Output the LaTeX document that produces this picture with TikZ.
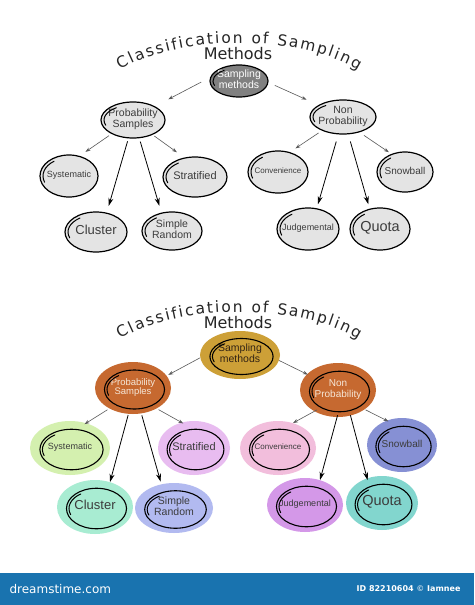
\documentclass[tikz,border=0pt]{standalone}
\usepackage{fontspec}
\setmainfont{Liberation Sans}
\newfontfamily\titlefont{DejaVu Sans}
\newfontfamily\footfont{DejaVu Sans}
\usetikzlibrary{shapes.geometric,arrows.meta,decorations.text}
\definecolor{smgray}{RGB}{128,128,128}
\definecolor{lgray}{RGB}{228,228,228}
\definecolor{txt}{RGB}{60,60,60}
\definecolor{gold}{RGB}{205,160,55}
\definecolor{rust}{RGB}{198,105,48}
\definecolor{cream}{RGB}{245,230,215}
\definecolor{darktxt}{RGB}{50,35,20}
\definecolor{cgreen}{RGB}{212,240,175}
\definecolor{cpink}{RGB}{232,188,240}
\definecolor{cmint}{RGB}{168,236,210}
\definecolor{clav}{RGB}{178,186,240}
\definecolor{crose}{RGB}{242,190,220}
\definecolor{cperi}{RGB}{134,144,212}
\definecolor{cviolet}{RGB}{212,152,232}
\definecolor{cteal}{RGB}{130,214,206}
\definecolor{footblue}{RGB}{25,115,175}
\tikzset{
  thinarr/.style={draw=black!65, line width=0.6pt, -{Stealth[length=5pt,width=3.5pt]}},
  boldarr/.style={draw=black, line width=0.8pt, -{Stealth[length=8pt,width=5pt]}},
  topell/.style={ellipse, draw=black, line width=1.2pt, inner sep=0pt},
  botell/.style={ellipse, inner sep=0pt},
  pen/.style={line width=1pt, line cap=round},
  titletext/.style={font=\titlefont\fontsize{16}{16}\selectfont, text=black!85, inner sep=0pt},
}
% name, x, y, rx, ry, fill, text colour, font size, text
\newcommand{\TopNode}[9]{%
  \node[topell, fill=#6, text=#7, font=\fontsize{#8}{#8}\selectfont,
        minimum width=#4*2pt, minimum height=#5*2pt] (#1) at (#2,-#3)
        {\makebox[0pt]{\begin{tabular}{@{}c@{}}#9\end{tabular}}};
  \pgfmathsetmacro{\myra}{#4-3}\pgfmathsetmacro{\myrb}{#5-3}
  \draw[pen] (#1.center) ++(125:\myra pt and \myrb pt)
     arc[start angle=125, end angle=200, x radius=\myra pt, y radius=\myrb pt];
}
\newcommand{\BotNode}[9]{%
  \node[botell, fill=#6, text=#7, font=\fontsize{#8}{#8}\selectfont,
        minimum width=#4*2pt, minimum height=#5*2pt] (#1) at (#2,-#3)
        {\makebox[0pt]{\begin{tabular}{@{}c@{}}#9\end{tabular}}};
  \pgfmathsetmacro{\myra}{0.79*#4}\pgfmathsetmacro{\myrb}{0.75*#5}
  \draw[line width=1.1pt] ([shift={(1.5pt,-1.5pt)}]#1.center) ellipse[x radius=\myra pt, y radius=\myrb pt];
  \pgfmathsetmacro{\myrc}{0.79*#4-2.5}\pgfmathsetmacro{\myrd}{0.75*#5-2.5}
  \draw[pen] ([shift={(1.5pt,-1.5pt)}]#1.center) ++(125:\myrc pt and \myrd pt)
     arc[start angle=125, end angle=200, x radius=\myrc pt, y radius=\myrd pt];
}
\begin{document}
\begin{tikzpicture}[x=1pt,y=1pt]
\useasboundingbox (0,0) rectangle (474,-605);
\fill[white] (0,0) rectangle (474,-605);

% ---------- top diagram ----------
\path[decorate, decoration={text along path, text align={fit to path},
   text={|\titlefont\fontsize{15.5}{15.5}\selectfont\color{black!85}|Classification of Sampling}}]
   (120,-70) .. controls (180,-34) and (300,-34) .. (358,-70);
\node[titletext] (meth1) at (238,-54) {Methods};

\TopNode{sm}{239}{81}{29}{16}{smgray}{white}{10.5}{Sampling\\methods}
\TopNode{prob}{133}{120}{32}{18}{lgray}{txt}{10.5}{Probability\\Samples}
\TopNode{non}{343}{117}{33}{17}{lgray}{txt}{10.5}{Non\\Probability}
\TopNode{syst}{69}{176}{29}{21}{lgray}{txt}{9}{Systematic}
\TopNode{strat}{195}{177}{32}{20}{lgray}{txt}{11}{Stratified}
\TopNode{clus}{96}{232}{31}{20}{lgray}{txt}{13}{Cluster}
\TopNode{simp}{172}{231}{30}{19}{lgray}{txt}{10.5}{Simple\\Random}
\TopNode{conv}{278}{172}{30}{21}{lgray}{txt}{8}{Convenience}
\TopNode{snow}{405}{172}{28}{20}{lgray}{txt}{10}{Snowball}
\TopNode{judg}{308}{229}{31}{21}{lgray}{txt}{9}{Judgemental}
\TopNode{quota}{380}{229}{30}{21}{lgray}{txt}{14.5}{Quota}

\draw[thinarr, shorten <=10pt, shorten >=15pt] (sm.173) -- (prob.32);
\draw[thinarr, shorten <=7pt, shorten >=13pt] (sm.-3) -- (non.154);
\draw[thinarr, shorten <=3pt, shorten >=7pt] (prob.213) -- (syst.62);
\draw[thinarr, shorten <=2pt, shorten >=9pt] (prob.-37) -- (strat.119);
\draw[boldarr, shorten <=3pt, shorten >=7pt] (prob.256) -- (clus.61);
\draw[boldarr, shorten <=3.5pt, shorten >=7pt] (prob.-71) -- (simp.120);
\draw[thinarr, shorten <=4pt, shorten >=6.6pt] (non.213) -- (conv.59);
\draw[thinarr, shorten <=5.5pt, shorten >=3pt] (non.-43.5) -- (snow.127);
\draw[boldarr, shorten <=7.4pt, shorten >=4.2pt] (non.255) -- (judg.67);
\draw[boldarr, shorten <=7.4pt, shorten >=4.6pt] (non.-73) -- (quota.117);

% ---------- bottom diagram ----------
\path[decorate, decoration={text along path, text align={fit to path},
   text={|\titlefont\fontsize{15.5}{15.5}\selectfont\color{black!85}|Classification of Sampling}}]
   (120,-339) .. controls (180,-303) and (300,-303) .. (358,-339);
\node[titletext] (meth2) at (238,-323) {Methods};

\BotNode{sm2}{240}{355}{40}{24}{gold}{darktxt}{10.5}{Sampling\\methods}
\BotNode{prob2}{133}{388}{38}{26}{rust}{cream}{9.5}{Probability\\Samples}
\BotNode{non2}{338}{390}{38}{27}{rust}{cream}{10}{Non\\Probability}
\BotNode{syst2}{70}{448}{40}{27}{cgreen}{txt}{9}{Systematic}
\BotNode{strat2}{194}{448}{36}{27}{cpink}{txt}{11}{Stratified}
\BotNode{clus2}{95}{507}{38}{27}{cmint}{txt}{13}{Cluster}
\BotNode{simp2}{174}{508}{39}{25}{clav}{txt}{10.5}{Simple\\Random}
\BotNode{conv2}{278}{448}{38}{27}{crose}{txt}{8}{Convenience}
\BotNode{snow2}{402}{445}{35}{27}{cperi}{txt}{10}{Snowball}
\BotNode{judg2}{305}{505}{38}{27}{cviolet}{txt}{9}{Judgemental}
\BotNode{quota2}{382}{503}{36}{27}{cteal}{txt}{14.5}{Quota}

\draw[thinarr, shorten <=0pt, shorten >=1.8pt] (sm2.184) -- (prob2.20);
\draw[thinarr, shorten <=0pt, shorten >=-1pt] (sm2.-8) -- (non2.153);
\draw[thinarr, shorten <=2.2pt, shorten >=-2pt] (prob2.221) -- (syst2.57);
\draw[thinarr, shorten <=2.2pt, shorten >=-2pt] (prob2.-41) -- (strat2.116);
\draw[boldarr, shorten <=1pt, shorten >=0pt] (prob2.260) -- (clus2.59);
\draw[boldarr, shorten <=1.8pt, shorten >=2.6pt] (prob2.-72) -- (simp2.118);
\draw[thinarr, shorten <=-3pt, shorten >=0pt] (non2.222) -- (conv2.59);
\draw[thinarr, shorten <=1pt, shorten >=-2pt] (non2.-36) -- (snow2.122);
\draw[boldarr, shorten <=-2pt, shorten >=0pt] (non2.268) -- (judg2.59);
\draw[boldarr, shorten <=-0.5pt, shorten >=-2pt] (non2.-64) -- (quota2.121);

% ---------- footer ----------
\fill[footblue] (0,-573) rectangle (474,-605);
\node[anchor=west, text=white, font=\footfont\fontsize{12}{12}\selectfont] (dt) at (6,-589) {dreamstime.com};
\node[anchor=east, text=white, font=\footfont\bfseries\fontsize{8}{8}\selectfont] (idn) at (464,-589)
  {ID 82210604 {\color{white!70!footblue}©} Iamnee};
\end{tikzpicture}
\end{document}
